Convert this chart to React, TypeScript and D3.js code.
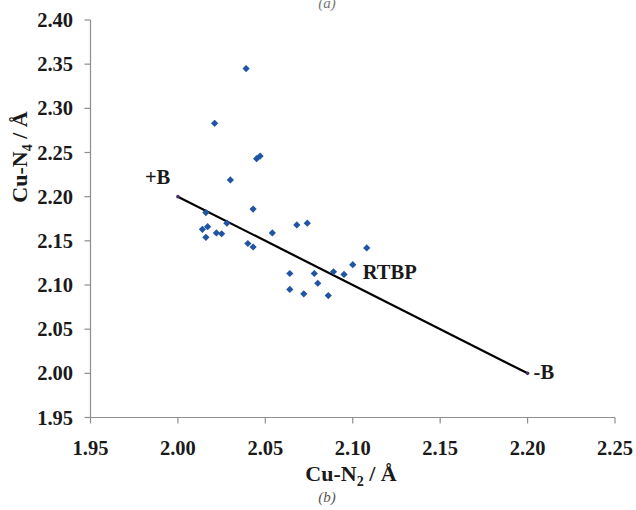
import React from "react";
import * as d3 from "d3";

const cuN2: number[] = [
  2.039, 2.021, 2.045, 2.047, 2.030, 2.016, 2.043, 2.014, 2.017, 2.016,
  2.022, 2.025, 2.028, 2.054, 2.068, 2.074, 2.040, 2.043, 2.108, 2.064,
  2.078, 2.089, 2.095, 2.100, 2.080, 2.064, 2.072, 2.086,
];
const cuN4: number[] = [
  2.345, 2.283, 2.243, 2.246, 2.219, 2.182, 2.186, 2.163, 2.166, 2.154,
  2.159, 2.158, 2.170, 2.159, 2.168, 2.170, 2.147, 2.143, 2.142, 2.113,
  2.113, 2.115, 2.112, 2.123, 2.102, 2.095, 2.090, 2.088,
];
const lineX: number[] = [2.0, 2.2];
const lineY: number[] = [2.2, 2.0];
const xTicks: number[] = [1.95, 2.0, 2.05, 2.1, 2.15, 2.2, 2.25];
const yTicks: number[] = [1.95, 2.0, 2.05, 2.1, 2.15, 2.2, 2.25, 2.3, 2.35, 2.4];
const annotations = [
  { label: "+B", x: 2.0, y: 2.2 },
  { label: "RTBP", x: 2.1, y: 2.1 },
  { label: "-B", x: 2.2, y: 2.0 },
];

const W = 636;
const H = 510;
const left = 90.5;
const right = 615;
const top = 20;
const bottom = 417.5;

export default function App() {
  const x = d3.scaleLinear().domain([1.95, 2.25]).range([left, right]);
  const y = d3.scaleLinear().domain([1.95, 2.4]).range([bottom, top]);
  const diamond = d3.symbol(d3.symbolSquare, 26)() as string;
  const line = d3
    .line<number>()
    .x((_, i) => x(lineX[i]))
    .y((_, i) => y(lineY[i]));
  const axisColor = "#8e8e8e";
  const font = "'Liberation Serif', 'Times New Roman', serif";
  const annOffsets: Record<string, [number, number]> = {
    "+B": [-33, -13],
    RTBP: [10, -6],
    "-B": [6, 6],
  };
  return (
    <svg
      width={W}
      height={H}
      style={{ position: "absolute", left: 0, top: 0, background: "#fff" }}
      fontFamily={font}
    >
      <rect width={W} height={H} fill="#fff" />
      {/* top caption (partially cut, as in the source) */}
      <text x={327} y={8} textAnchor="middle" fontSize={15} fontStyle="italic" fill="#777">
        (a)
      </text>
      {/* axes */}
      <line x1={left} x2={left} y1={top} y2={bottom} stroke={axisColor} strokeWidth={1.2} />
      <line x1={left} x2={right} y1={bottom} y2={bottom} stroke={axisColor} strokeWidth={1.2} />
      {yTicks.map((t) => (
        <g key={"y" + t}>
          <line x1={left - 6} x2={left} y1={y(t)} y2={y(t)} stroke={axisColor} strokeWidth={1.2} />
          <text
            x={73}
            y={y(t) + 7}
            textAnchor="end"
            fontSize={20.5}
            fontWeight="bold"
            fill="#1a1a1a"
          >
            {t.toFixed(2)}
          </text>
        </g>
      ))}
      {xTicks.map((t) => (
        <g key={"x" + t}>
          <line x1={x(t)} x2={x(t)} y1={bottom} y2={bottom + 6} stroke={axisColor} strokeWidth={1.2} />
          <text x={x(t)} y={455} textAnchor="middle" fontSize={20.5} fontWeight="bold" fill="#1a1a1a">
            {t.toFixed(2)}
          </text>
        </g>
      ))}
      {/* axis titles */}
      <text x={351} y={481} textAnchor="middle" fontSize={22} fontWeight="bold" fill="#1a1a1a">
        Cu-N<tspan fontSize={14} dy={5}>2</tspan>
        <tspan dy={-5}> / Å</tspan>
      </text>
      <text
        transform="translate(27,157) rotate(-90)"
        textAnchor="middle"
        fontSize={22}
        fontWeight="bold"
        fill="#1a1a1a"
      >
        Cu-N<tspan fontSize={14} dy={5}>4</tspan>
        <tspan dy={-5}> / Å</tspan>
      </text>
      <text x={327} y={502} textAnchor="middle" fontSize={15} fontStyle="italic" fill="#555">
        (b)
      </text>
      {/* regression line */}
      <path d={line(lineX) || ""} stroke="#000" strokeWidth={2.2} fill="none" />
      {lineX.map((v, i) => (
        <circle key={"e" + i} cx={x(v)} cy={y(lineY[i])} r={1.8} fill="#4a2f6e" />
      ))}
      {/* data points */}
      {cuN2.map((v, i) => (
        <path
          key={"p" + i}
          d={diamond}
          transform={`translate(${x(v)},${y(cuN4[i])}) rotate(45)`}
          fill="#1f55a3"
        />
      ))}
      {/* annotations */}
      {annotations.map((a) => {
        const [dx, dy] = annOffsets[a.label];
        return (
          <text
            key={a.label}
            x={x(a.x) + dx}
            y={y(a.y) + dy}
            fontSize={20.5}
            fontWeight="bold"
            fill="#1a1a1a"
          >
            {a.label}
          </text>
        );
      })}
    </svg>
  );
}
